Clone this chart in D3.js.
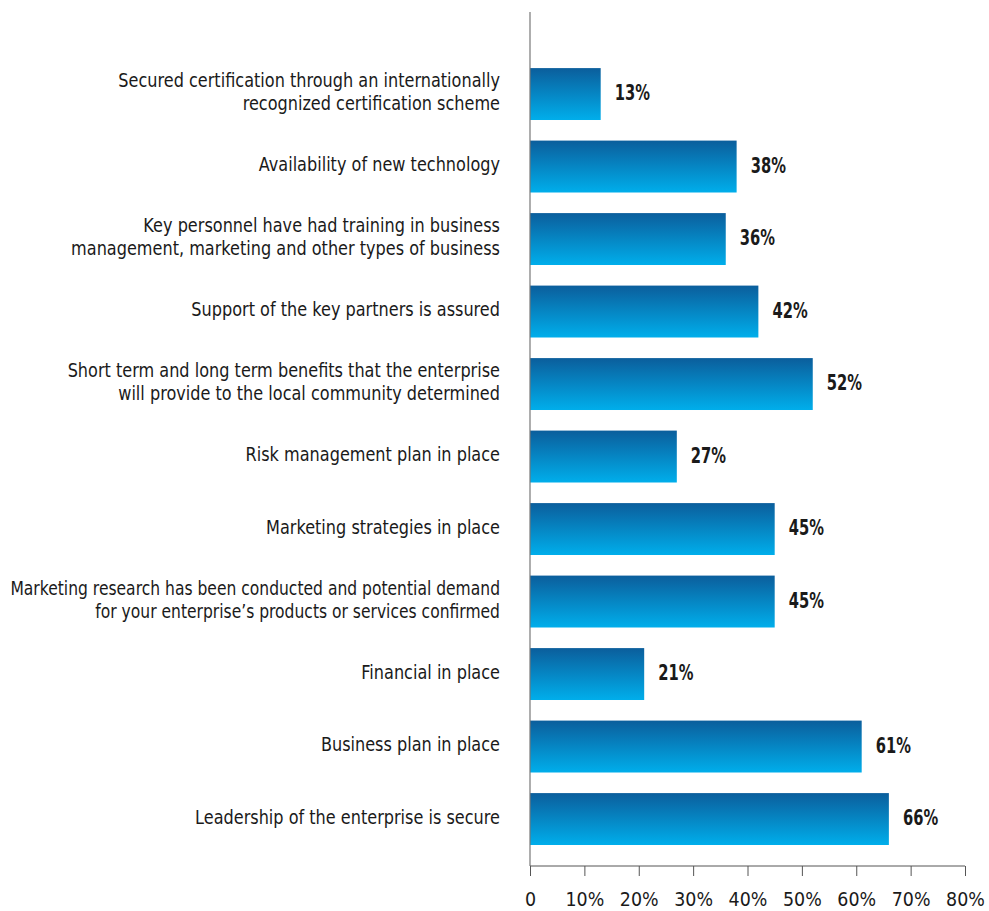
<!DOCTYPE html>
<html>
<head>
<meta charset="utf-8">
<script src="https://cdnjs.cloudflare.com/ajax/libs/d3/7.8.5/d3.min.js"></script>
<style>
  body { margin: 0; background: #fff; }
  text { font-family: "DejaVu Sans", sans-serif; fill: #1a1a1a; }
</style>
</head>
<body>
<script>
// categories, top to bottom, each split in lines
var categories = [
  ["Secured certification through an internationally", "recognized certification scheme"],
  ["Availability of new technology"],
  ["Key personnel have had training in business", "management, marketing and other types of business"],
  ["Support of the key partners is assured"],
  ["Short term and long term benefits that the enterprise", "will provide to the local community determined"],
  ["Risk management plan in place"],
  ["Marketing strategies in place"],
  ["Marketing research has been conducted and potential demand", "for your enterprise\u2019s products or services confirmed"],
  ["Financial in place"],
  ["Business plan in place"],
  ["Leadership of the enterprise is secure"]
]
var values = [13, 38, 36, 42, 52, 27, 45, 45, 21, 61, 66]
var ticks = [0, 10, 20, 30, 40, 50, 60, 70, 80]

window.onload = function() {
	Draw_Chart()
}

function Draw_Chart(){
	var svg = d3.select("body").append("svg")
		.attr("width", 989)
		.attr("height", 911)

	var grad = svg.append("defs").append("linearGradient")
		.attr("id", "barGrad")
		.attr("x1", 0).attr("y1", 0).attr("x2", 0).attr("y2", 1)
	grad.append("stop").attr("offset", "0%").attr("stop-color", "#0b5e9c")
	grad.append("stop").attr("offset", "100%").attr("stop-color", "#00aeeb")

	var x = d3.scaleLinear().domain([0, 80]).range([530, 965])
	var y = d3.scaleBand()
		.domain(d3.range(values.length))
		.range([57.8, 855.3])
		.paddingInner(0.284)
		.paddingOuter(0.142)

	svg.selectAll("rect.bar")
		.data(values)
		.enter()
		.append("rect")
		.attr("class", "bar")
		.attr("x", x(0))
		.attr("y", function(d, i){ return y(i) })
		.attr("width", function(d){ return x(d) - x(0) })
		.attr("height", y.bandwidth())
		.style("fill", "url(#barGrad)")

	// value labels (squeezed sideways to look like the condensed face)
	svg.selectAll("text.val")
		.data(values)
		.enter()
		.append("text")
		.attr("class", "val")
		.attr("transform", function(d, i){
			return "translate(" + (x(d) + 14) + "," + (y(i) + y.bandwidth() / 2) + ") scale(0.67,1)"
		})
		.attr("dy", "0.28em")
		.style("font-size", "22px")
		.style("font-weight", "bold")
		.text(function(d){ return d + "%" })

	// category labels
	var lab = svg.selectAll("text.cat")
		.data(categories)
		.enter()
		.append("text")
		.attr("class", "cat")
		.attr("text-anchor", "end")
		.style("font-size", "19.5px")
	lab.selectAll("tspan")
		.data(function(d){ return d })
		.enter()
		.append("tspan")
		.attr("x", 0)
		.attr("y", function(d, j, nodes){
			var n = nodes.length
			return (j - (n - 1) / 2) * 23
		})
		.attr("dy", "0.35em")
		.text(function(d){ return d })
	// squeeze each label, a bit more if its longest line would pass the left edge
	lab.attr("transform", function(d, i){
		var w = this.getBBox().width
		var s = Math.min(0.826, 490 / w)
		return "translate(500," + (y(i) + y.bandwidth() / 2 - 2) + ") scale(" + s + ",1)"
	})

	// vertical axis line
	svg.append("line")
		.attr("x1", x(0)).attr("x2", x(0))
		.attr("y1", 12).attr("y2", 866)
		.style("stroke", "#777")
		.style("stroke-width", 1.2)

	// bottom axis
	var xAxis = d3.axisBottom(x)
		.tickValues(ticks)
		.tickSize(10)
		.tickFormat(function(d){ return d === 0 ? "0" : d + "%" })
	var g = svg.append("g")
		.attr("transform", "translate(0,866)")
		.call(xAxis)
	g.select(".domain").attr("d", "M" + x(0) + ",0H" + x(80)).style("stroke", "#555")
	g.selectAll(".tick line").style("stroke", "#555")
	g.selectAll(".tick text")
		.attr("y", 27)
		.attr("transform", "scale(0.92,1)")
		.style("font-size", "19px")
		.style("font-family", "\"DejaVu Sans\", sans-serif")
		.style("fill", "#1a1a1a")
}
</script>
</body>
</html>
